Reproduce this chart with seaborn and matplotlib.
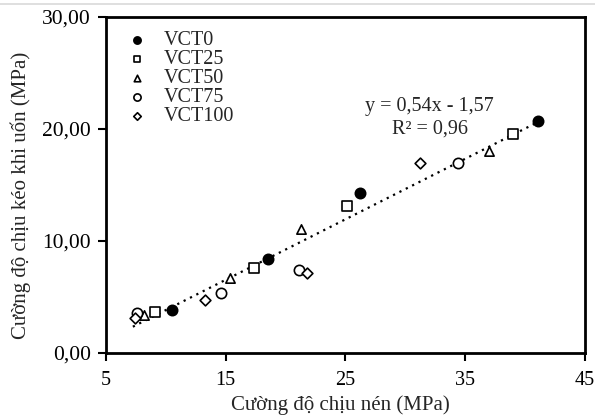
import matplotlib
matplotlib.use("Agg")
import matplotlib.pyplot as plt
from matplotlib.lines import Line2D
import seaborn as sns
import numpy as np
import pandas as pd

groups = ["VCT0", "VCT25", "VCT50", "VCT75", "VCT100"]
x_vct0 = [10.5, 18.5, 26.2, 41.1]
y_vct0 = [3.84, 8.39, 14.3, 20.7]
x_vct25 = [9.1, 17.4, 25.1, 39.0]
y_vct25 = [3.66, 7.6, 13.1, 19.55]
x_vct50 = [8.2, 15.35, 21.3, 37.0]
y_vct50 = [3.4, 6.7, 11.07, 18.0]
x_vct75 = [7.6, 14.6, 21.1, 34.4]
y_vct75 = [3.6, 5.36, 7.4, 17.0]
x_vct100 = [7.4, 13.3, 21.8, 31.2]
y_vct100 = [3.1, 4.7, 7.1, 17.0]
slope, intercept = 0.54, -1.57
xticks = [5, 15, 25, 35, 45]
yticks = [0, 10, 20, 30]
ytick_labels = ["0,00", "10,00", "20,00", "30,00"]

xs = [x_vct0, x_vct25, x_vct50, x_vct75, x_vct100]
ys = [y_vct0, y_vct25, y_vct50, y_vct75, y_vct100]
rows = []
for g, xx, yy in zip(groups, xs, ys):
    for a, b in zip(xx, yy):
        rows.append({"x": a, "y": b, "g": g})
df = pd.DataFrame(rows)

sns.set_style("white")
plt.rcParams["font.family"] = ["Liberation Serif", "DejaVu Serif"]

fig = plt.figure(figsize=(5.95, 4.17), dpi=100)
fig.add_artist(Line2D([0, 1], [1 - 4 / 417, 1 - 4 / 417], color="#d9d9d9", lw=1.2,
                      transform=fig.transFigure))
ax = fig.add_axes([0.178, 0.1535, 0.805, 0.806])

markers = {"VCT0": "o", "VCT25": "s", "VCT50": "^", "VCT75": "o", "VCT100": "D"}
faces = {"VCT0": "black", "VCT25": "white", "VCT50": "white", "VCT75": "white", "VCT100": "white"}
sizes = {"VCT0": 55, "VCT25": 50, "VCT50": 45, "VCT75": 55, "VCT100": 30}

# trendline
allx = np.array(sum(xs, []))
lx = np.array([allx.min() - 0.15, allx.max()])
ax.plot(lx, slope * lx + intercept, linestyle=(0, (1, 2.2)), color="black", lw=1.6, zorder=1)

for g in groups:
    sub = df[df.g == g]
    sns.scatterplot(data=sub, x="x", y="y", ax=ax, marker=markers[g], s=sizes[g],
                    color=faces[g], edgecolor="black", linewidth=1.2, label=g, zorder=3)

ax.set_xlim(5, 45)
ax.set_ylim(0, 30)
ax.set_xticks(xticks)
ax.set_xticklabels([str(t) for t in xticks])
ax.set_yticks(yticks)
ax.set_yticklabels(ytick_labels)
ax.tick_params(axis="both", direction="out", length=6, width=1.5, labelsize=14.5, colors="black")
ax.tick_params(axis="x", bottom=True, pad=7)
ax.tick_params(axis="y", left=True, pad=5, labelsize=15.5)
for sp in ax.spines.values():
    sp.set_linewidth(2)
    sp.set_color("black")
ax.set_xlabel("Cường độ chịu nén (MPa)", fontsize=15)
ax.set_ylabel("Cường độ chịu kéo khi uốn (MPa)", fontsize=15)
ax.xaxis.set_label_coords(0.49, -0.125)
ax.yaxis.set_label_coords(-0.157, 0.468)

ax.text(0.676, 0.637, "y = 0,54x - 1,57\nR² = 0,96", transform=ax.transAxes,
        ha="center", va="bottom", fontsize=14.5, linespacing=1.25)

leg = ax.legend(loc="upper left", frameon=False, fontsize=14.5, handletextpad=0.8,
                labelspacing=0.0, borderaxespad=0.0, bbox_to_anchor=(0.028, 0.982),
                markerscale=0.7, handlelength=1.0)

fig.savefig("out.png", dpi=100)
